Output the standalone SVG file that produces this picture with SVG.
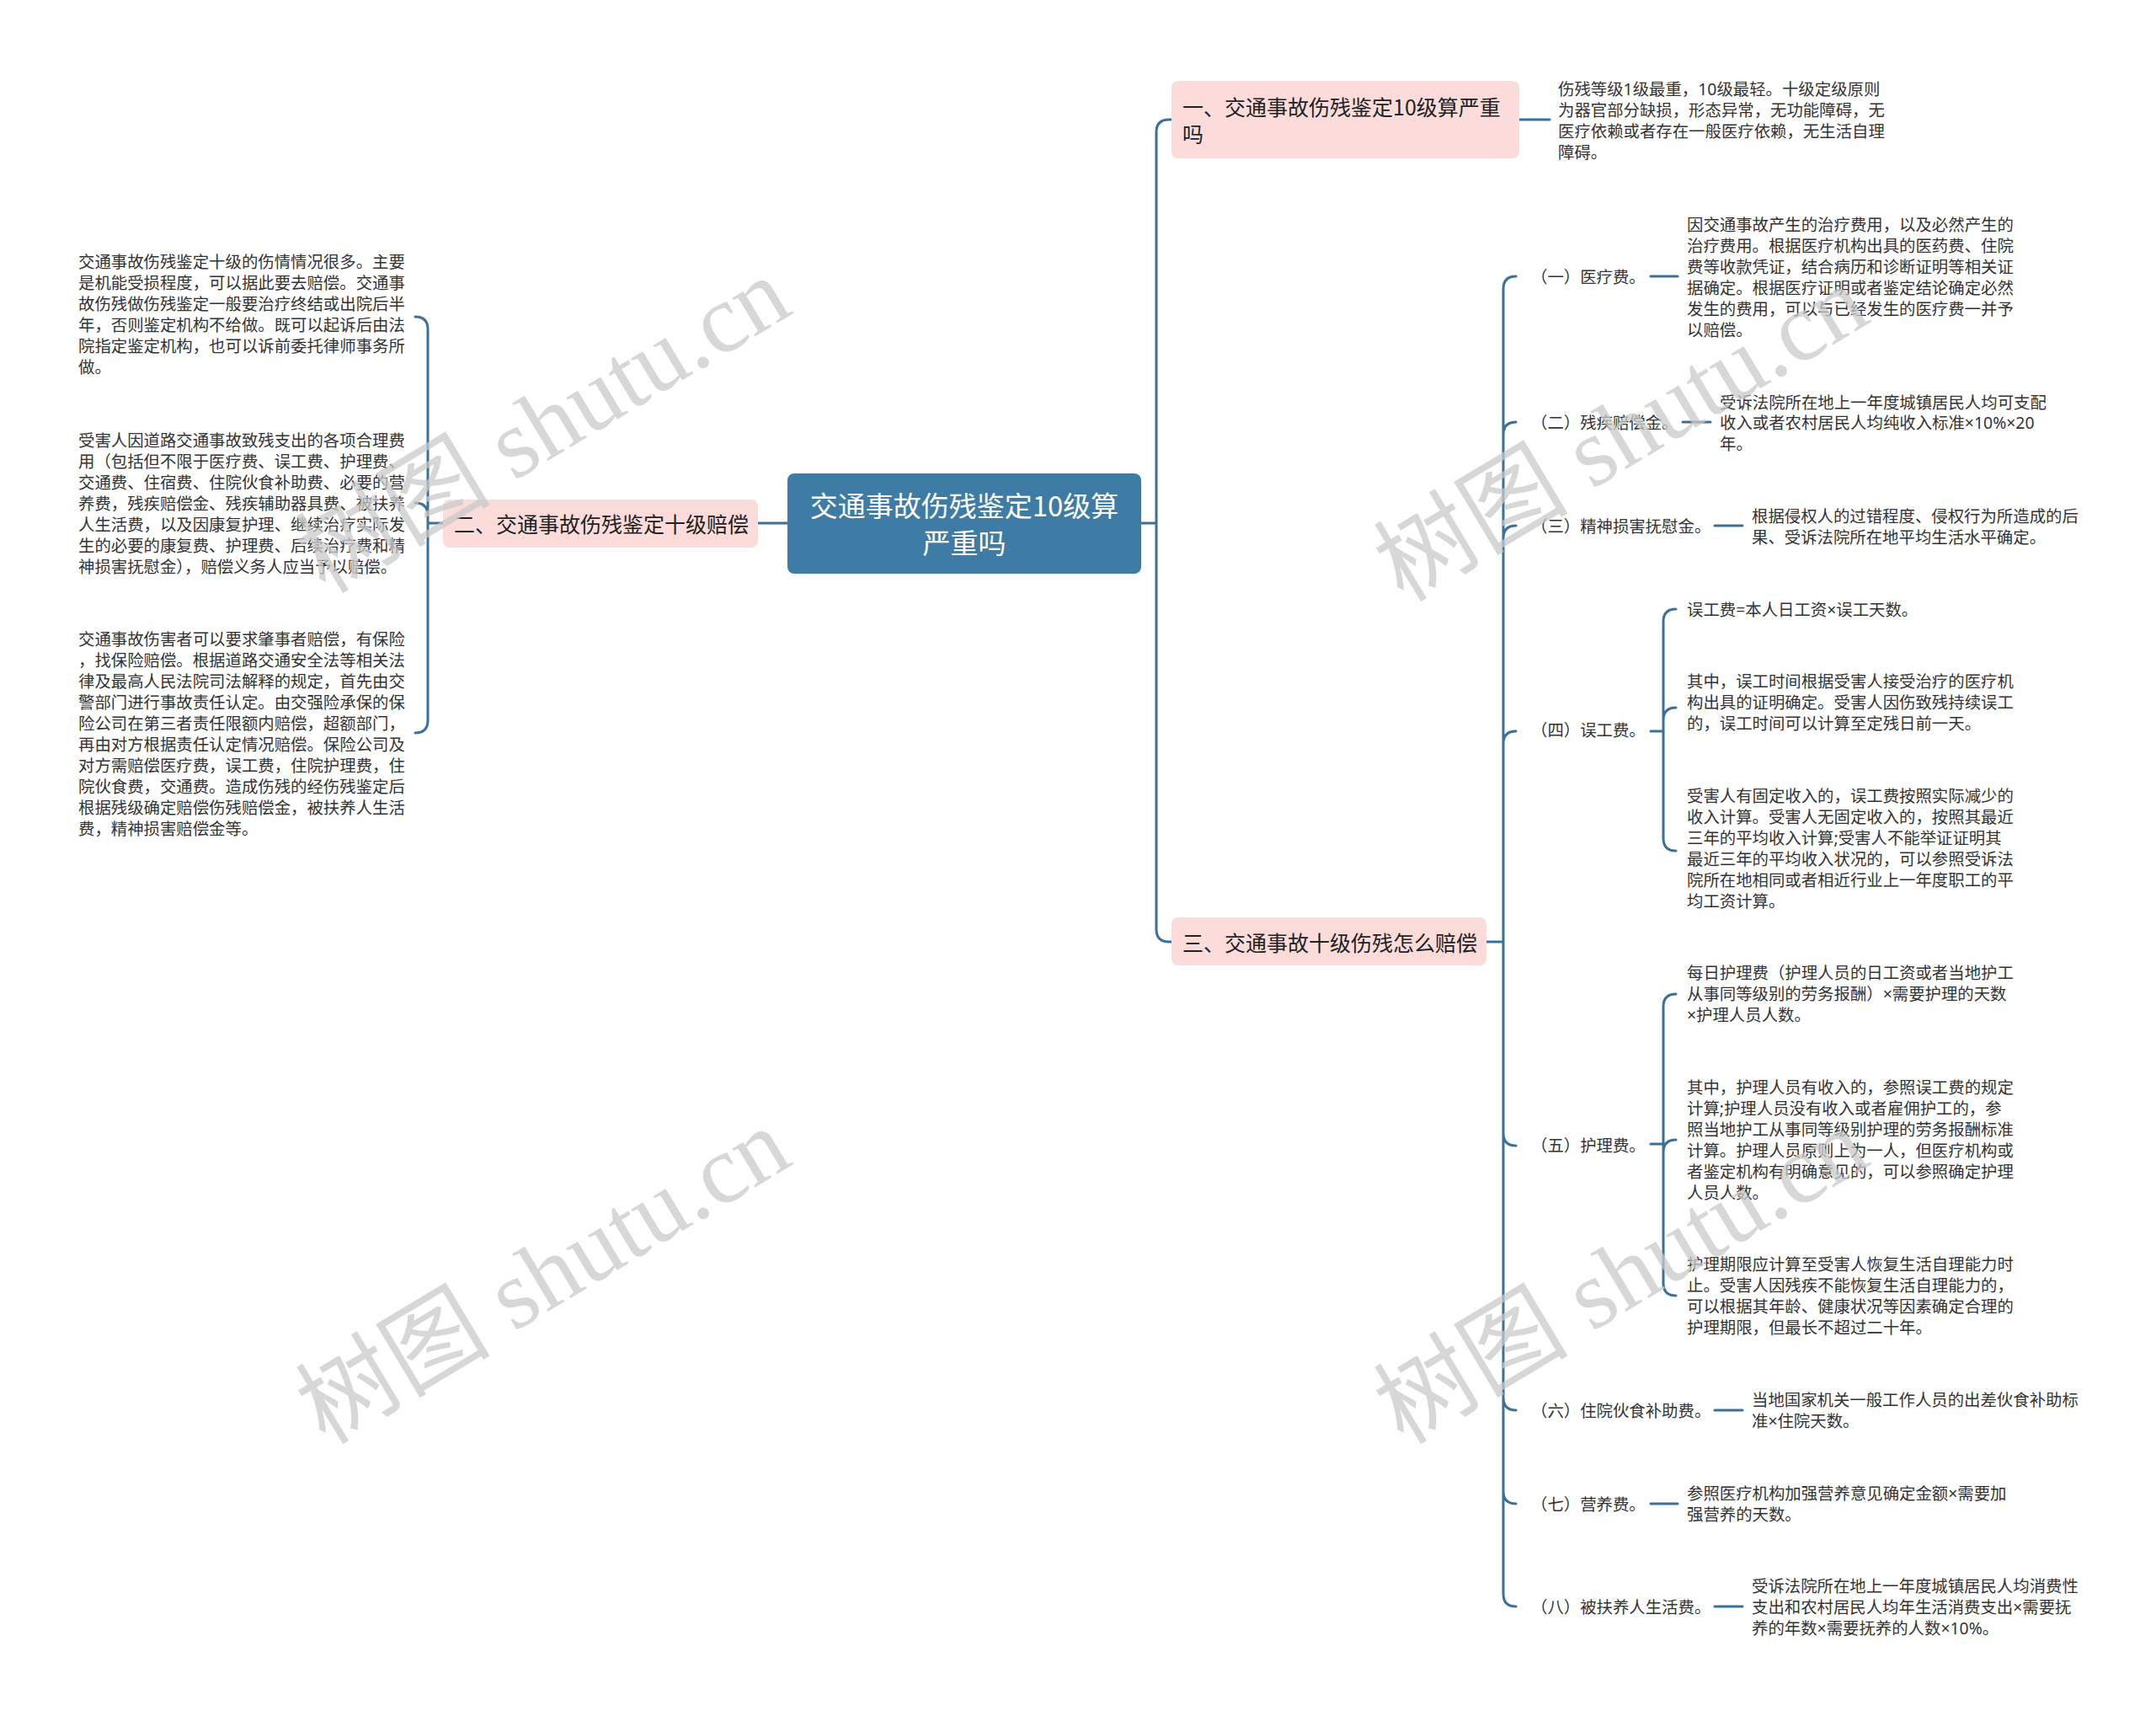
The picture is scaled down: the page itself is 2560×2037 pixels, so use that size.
<svg xmlns="http://www.w3.org/2000/svg" width="2560" height="2037" viewBox="0 0 2560 2037">
<style>
.conn{fill:none;stroke:#3b7199;stroke-width:3;stroke-linecap:round}
.t{font-family:"Noto Sans","Noto Sans CJK SC",sans-serif;font-size:19.4px;fill:#333;dominant-baseline:central}
.nt{font-family:"Noto Sans CJK SC","Noto Sans",sans-serif;font-size:25px;fill:#222;dominant-baseline:central}
.ct{font-family:"Noto Sans CJK SC","Noto Sans",sans-serif;font-size:33px;fill:#fff;dominant-baseline:central;text-anchor:middle}
.pink{fill:#fbdcdb}
.wm{font-family:"Liberation Serif","Noto Sans CJK SC",serif;font-size:116px;fill:#c9c9c9;fill-opacity:0.75;text-anchor:middle;dominant-baseline:central}
</style>
<rect width="2560" height="2037" fill="#fff"/>
<g id="connectors">
<path class="conn" d="M1355,621 H1373 M1373,157 V1103 M1373,157 Q1373,142 1388,142 H1391 M1373,1103 Q1373,1118 1388,1118 H1391"/>
<path class="conn" d="M935,621 H900"/>
<path class="conn" d="M526,621 H508 M508,391 V855 M508,391 Q508,376 493,376 M508,612 Q508,597 493,597 M508,855 Q508,870 493,870"/>
<path class="conn" d="M1804,142 H1840"/>
<path class="conn" d="M1765,1118 H1785 M1785,343 V1892 M1785,343 Q1785,328 1800,328 M1785,516 Q1785,501 1800,501 M1785,639 Q1785,624 1800,624 M1785,883 Q1785,868 1800,868 M1785,1345 Q1785,1360 1800,1360 M1785,1659 Q1785,1674 1800,1674 M1785,1770 Q1785,1785 1800,1785 M1785,1892 Q1785,1907 1800,1907"/>
<path class="conn" d="M1960,328 H1992 M1998,501 H2031 M2036,624 H2069 M2036,1674 H2069 M1960,1785 H1992 M2036,1907 H2069"/>
<path class="conn" d="M1960,868 H1975 M1975,738 V995 M1975,738 Q1975,723 1990,723 M1975,855 Q1975,840 1990,840 M1975,995 Q1975,1010 1990,1010"/>
<path class="conn" d="M1960,1358 H1975 M1975,1195 V1523 M1975,1195 Q1975,1180 1990,1180 M1975,1368 Q1975,1353 1990,1353 M1975,1523 Q1975,1538 1990,1538"/>
</g>
<g id="root">
<rect x="935" y="562" width="420" height="119" rx="8" fill="#3f7ca5"/>
<text class="ct" x="1145" y="599">交通事故伤残鉴定10级算</text>
<text class="ct" x="1145" y="643">严重吗</text>
</g>
<g id="n1">
<rect class="pink" x="1391" y="96" width="413" height="92" rx="8"/>
<text class="nt" x="1404" y="126">一、交通事故伤残鉴定10级算严重</text>
<text class="nt" x="1404" y="158">吗</text>
</g>
<g id="n1-text">
<text class="t" x="1850" y="105">伤残等级1级最重，10级最轻。十级定级原则</text>
<text class="t" x="1850" y="130">为器官部分缺损，形态异常，无功能障碍，无</text>
<text class="t" x="1850" y="155">医疗依赖或者存在一般医疗依赖，无生活自理</text>
<text class="t" x="1850" y="180">障碍。</text>
</g>
<g id="n2">
<rect class="pink" x="526" y="593" width="374" height="57" rx="8"/>
<text class="nt" x="539" y="621">二、交通事故伤残鉴定十级赔偿</text>
</g>
<g id="n2-a">
<text class="t" x="93" y="310">交通事故伤残鉴定十级的伤情情况很多。主要</text>
<text class="t" x="93" y="335">是机能受损程度，可以据此要去赔偿。交通事</text>
<text class="t" x="93" y="360">故伤残做伤残鉴定一般要治疗终结或出院后半</text>
<text class="t" x="93" y="385">年，否则鉴定机构不给做。既可以起诉后由法</text>
<text class="t" x="93" y="410">院指定鉴定机构，也可以诉前委托律师事务所</text>
<text class="t" x="93" y="435">做。</text>
</g>
<g id="n2-b">
<text class="t" x="93" y="522">受害人因道路交通事故致残支出的各项合理费</text>
<text class="t" x="93" y="547">用（包括但不限于医疗费、误工费、护理费、</text>
<text class="t" x="93" y="572">交通费、住宿费、住院伙食补助费、必要的营</text>
<text class="t" x="93" y="597">养费，残疾赔偿金、残疾辅助器具费、被扶养</text>
<text class="t" x="93" y="622">人生活费，以及因康复护理、继续治疗实际发</text>
<text class="t" x="93" y="647">生的必要的康复费、护理费、后续治疗费和精</text>
<text class="t" x="93" y="672">神损害抚慰金），赔偿义务人应当予以赔偿。</text>
</g>
<g id="n2-c">
<text class="t" x="93" y="758">交通事故伤害者可以要求肇事者赔偿，有保险</text>
<text class="t" x="93" y="783">，找保险赔偿。根据道路交通安全法等相关法</text>
<text class="t" x="93" y="808">律及最高人民法院司法解释的规定，首先由交</text>
<text class="t" x="93" y="833">警部门进行事故责任认定。由交强险承保的保</text>
<text class="t" x="93" y="858">险公司在第三者责任限额内赔偿，超额部门，</text>
<text class="t" x="93" y="883">再由对方根据责任认定情况赔偿。保险公司及</text>
<text class="t" x="93" y="908">对方需赔偿医疗费，误工费，住院护理费，住</text>
<text class="t" x="93" y="933">院伙食费，交通费。造成伤残的经伤残鉴定后</text>
<text class="t" x="93" y="958">根据残级确定赔偿伤残赔偿金，被扶养人生活</text>
<text class="t" x="93" y="983">费，精神损害赔偿金等。</text>
</g>
<g id="n3">
<rect class="pink" x="1391" y="1089" width="374" height="57" rx="8"/>
<text class="nt" x="1404" y="1118">三、交通事故十级伤残怎么赔偿</text>
</g>
<g id="c1">
<text class="t" x="1818" y="328">（一）医疗费。</text>
<text class="t" x="2003" y="266">因交通事故产生的治疗费用，以及必然产生的</text>
<text class="t" x="2003" y="291">治疗费用。根据医疗机构出具的医药费、住院</text>
<text class="t" x="2003" y="316">费等收款凭证，结合病历和诊断证明等相关证</text>
<text class="t" x="2003" y="341">据确定。根据医疗证明或者鉴定结论确定必然</text>
<text class="t" x="2003" y="366">发生的费用，可以与已经发生的医疗费一并予</text>
<text class="t" x="2003" y="391">以赔偿。</text>
</g>
<g id="c2">
<text class="t" x="1818" y="501">（二）残疾赔偿金。</text>
<text class="t" x="2042" y="477">受诉法院所在地上一年度城镇居民人均可支配</text>
<text class="t" x="2042" y="501">收入或者农村居民人均纯收入标准×10%×20</text>
<text class="t" x="2042" y="526">年。</text>
</g>
<g id="c3">
<text class="t" x="1818" y="624">（三）精神损害抚慰金。</text>
<text class="t" x="2080" y="612">根据侵权人的过错程度、侵权行为所造成的后</text>
<text class="t" x="2080" y="637">果、受诉法院所在地平均生活水平确定。</text>
</g>
<g id="c4">
<text class="t" x="1818" y="866">（四）误工费。</text>
<text class="t" x="2003" y="723">误工费=本人日工资×误工天数。</text>
<text class="t" x="2003" y="808">其中，误工时间根据受害人接受治疗的医疗机</text>
<text class="t" x="2003" y="833">构出具的证明确定。受害人因伤致残持续误工</text>
<text class="t" x="2003" y="858">的，误工时间可以计算至定残日前一天。</text>
<text class="t" x="2003" y="944">受害人有固定收入的，误工费按照实际减少的</text>
<text class="t" x="2003" y="969">收入计算。受害人无固定收入的，按照其最近</text>
<text class="t" x="2003" y="994">三年的平均收入计算;受害人不能举证证明其</text>
<text class="t" x="2003" y="1019">最近三年的平均收入状况的，可以参照受诉法</text>
<text class="t" x="2003" y="1044">院所在地相同或者相近行业上一年度职工的平</text>
<text class="t" x="2003" y="1069">均工资计算。</text>
</g>
<g id="c5">
<text class="t" x="1818" y="1359">（五）护理费。</text>
<text class="t" x="2003" y="1154">每日护理费（护理人员的日工资或者当地护工</text>
<text class="t" x="2003" y="1179">从事同等级别的劳务报酬）×需要护理的天数</text>
<text class="t" x="2003" y="1204">×护理人员人数。</text>
<text class="t" x="2003" y="1290">其中，护理人员有收入的，参照误工费的规定</text>
<text class="t" x="2003" y="1315">计算;护理人员没有收入或者雇佣护工的，参</text>
<text class="t" x="2003" y="1340">照当地护工从事同等级别护理的劳务报酬标准</text>
<text class="t" x="2003" y="1365">计算。护理人员原则上为一人，但医疗机构或</text>
<text class="t" x="2003" y="1390">者鉴定机构有明确意见的，可以参照确定护理</text>
<text class="t" x="2003" y="1415">人员人数。</text>
<text class="t" x="2003" y="1500">护理期限应计算至受害人恢复生活自理能力时</text>
<text class="t" x="2003" y="1525">止。受害人因残疾不能恢复生活自理能力的，</text>
<text class="t" x="2003" y="1550">可以根据其年龄、健康状况等因素确定合理的</text>
<text class="t" x="2003" y="1575">护理期限，但最长不超过二十年。</text>
</g>
<g id="c6">
<text class="t" x="1818" y="1674">（六）住院伙食补助费。</text>
<text class="t" x="2080" y="1661">当地国家机关一般工作人员的出差伙食补助标</text>
<text class="t" x="2080" y="1686">准×住院天数。</text>
</g>
<g id="c7">
<text class="t" x="1818" y="1785">（七）营养费。</text>
<text class="t" x="2003" y="1772">参照医疗机构加强营养意见确定金额×需要加</text>
<text class="t" x="2003" y="1797">强营养的天数。</text>
</g>
<g id="c8">
<text class="t" x="1818" y="1907">（八）被扶养人生活费。</text>
<text class="t" x="2080" y="1882">受诉法院所在地上一年度城镇居民人均消费性</text>
<text class="t" x="2080" y="1907">支出和农村居民人均年生活消费支出×需要抚</text>
<text class="t" x="2080" y="1932">养的年数×需要抚养的人数×10%。</text>
</g>
<g id="watermarks">
<text class="wm" transform="translate(645,505) rotate(-31)">树图 shutu.cn</text>
<text class="wm" transform="translate(645,1515) rotate(-31)">树图 shutu.cn</text>
<text class="wm" transform="translate(1925,515) rotate(-31)">树图 shutu.cn</text>
<text class="wm" transform="translate(1925,1515) rotate(-31)">树图 shutu.cn</text>
</g>
</svg>
